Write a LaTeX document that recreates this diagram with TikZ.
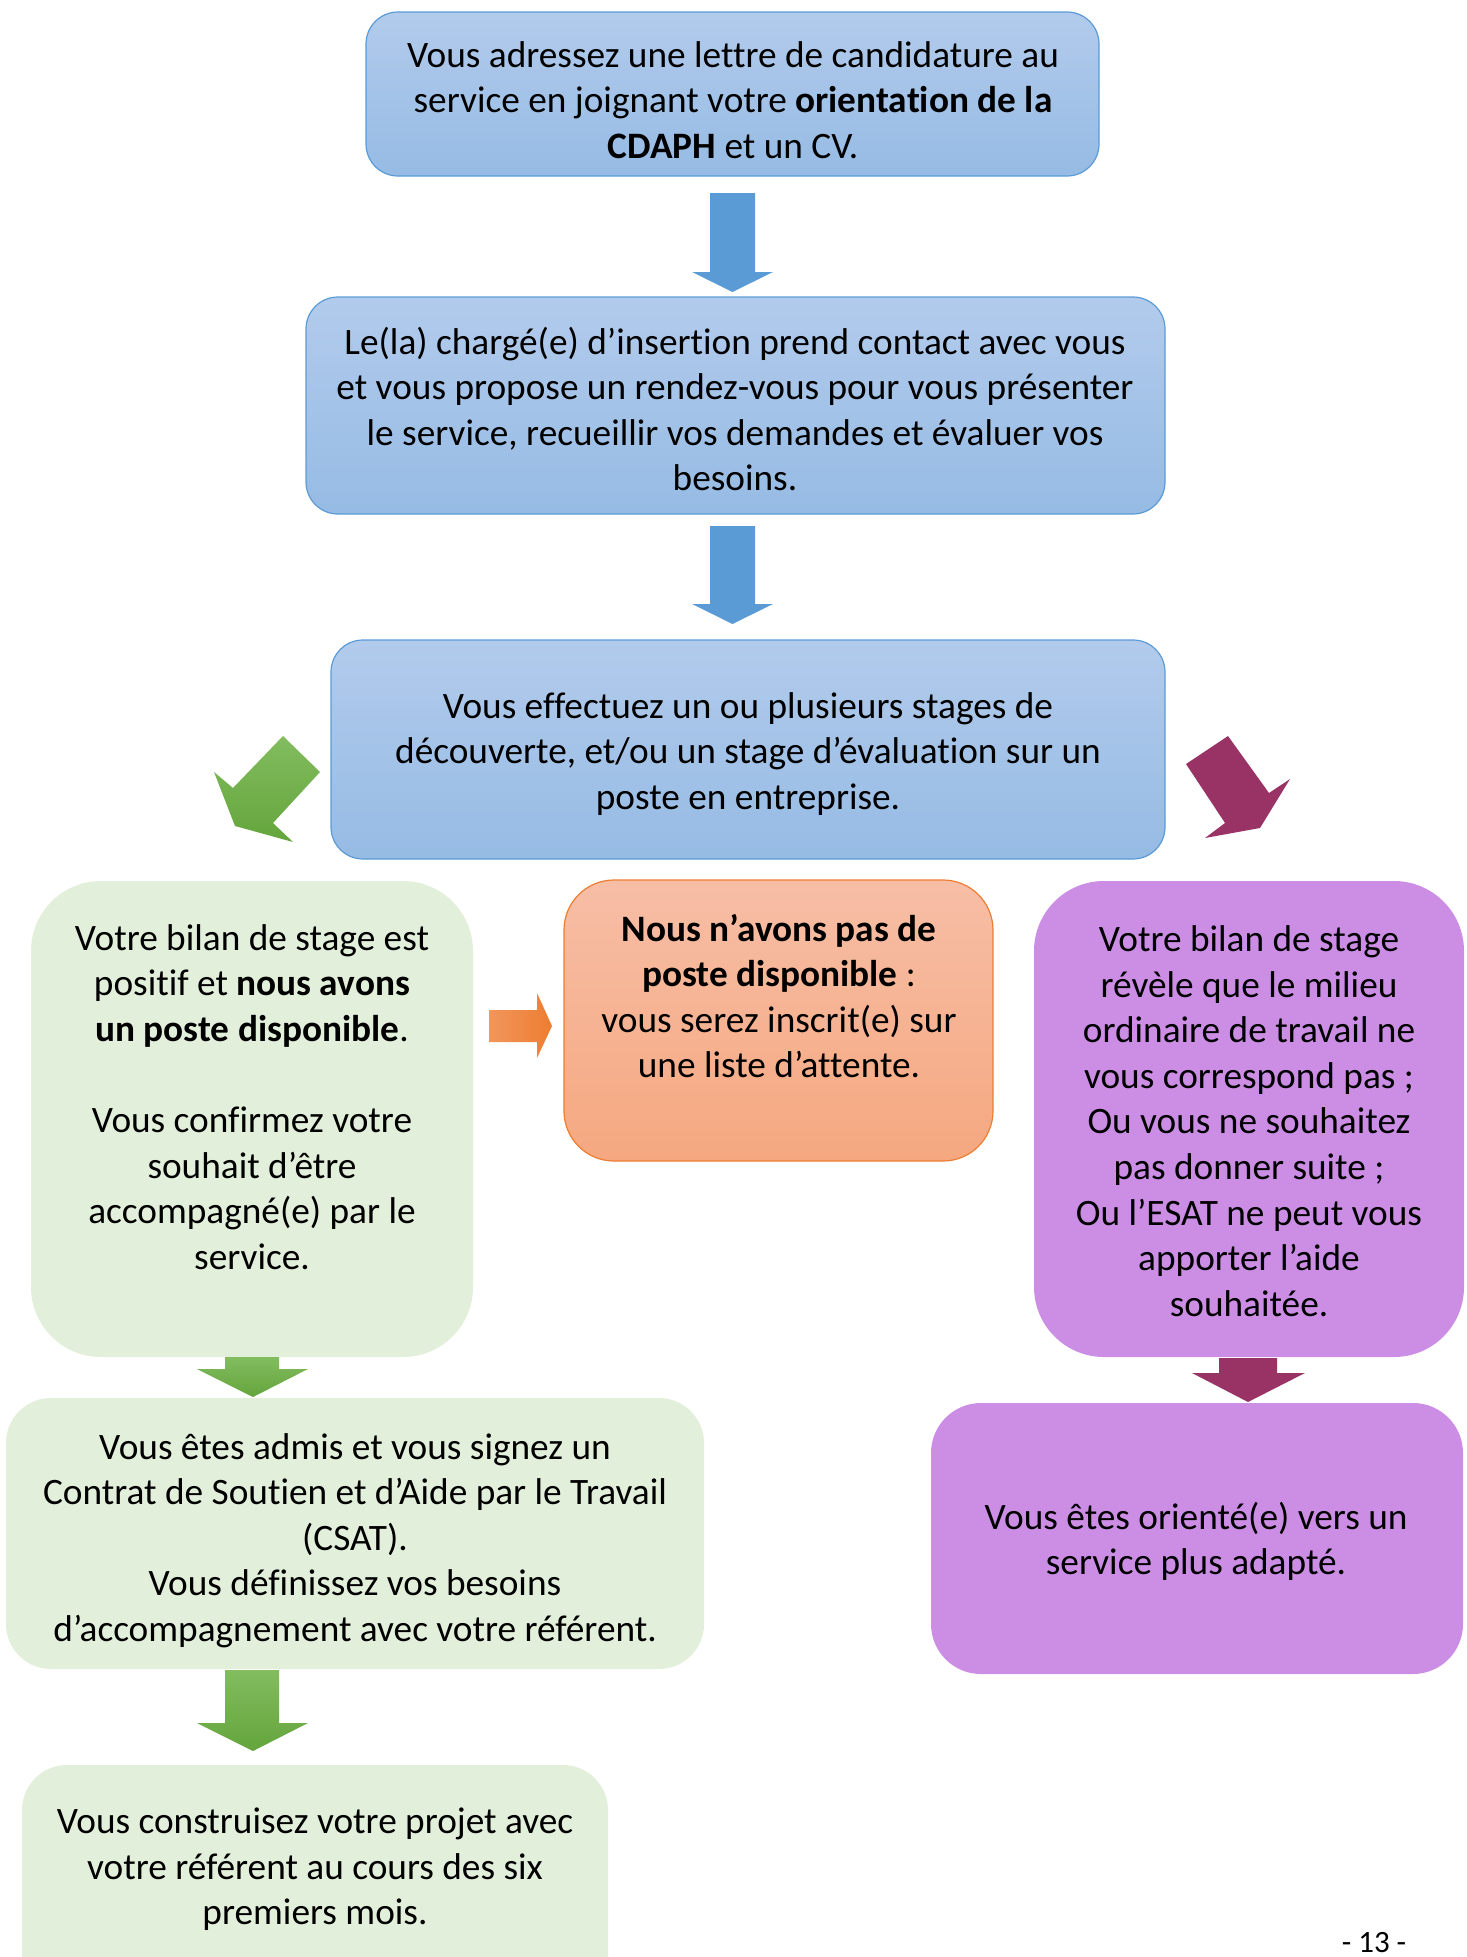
\documentclass[tikz,border=0pt]{standalone}
\usepackage{fontspec}
\setmainfont{Carlito}[Ligatures=NoCommon]
\definecolor{bluetop}{RGB}{178,203,236}
\definecolor{bluebot}{RGB}{150,187,228}
\definecolor{blueline}{RGB}{91,155,213}
\definecolor{bluearrow}{RGB}{91,155,213}
\definecolor{greenfill}{RGB}{226,239,218}
\definecolor{greentop}{RGB}{130,188,95}
\definecolor{greenbot}{RGB}{100,165,60}
\definecolor{orangetop}{RGB}{247,190,166}
\definecolor{orangebot}{RGB}{245,168,128}
\definecolor{orangeline}{RGB}{237,125,49}
\definecolor{orangeleft}{RGB}{241,150,92}
\definecolor{orangeright}{RGB}{237,125,49}
\definecolor{purplefill}{RGB}{204,142,229}
\definecolor{purplearrow}{RGB}{153,51,102}
\tikzset{
  box/.style={inner sep=0pt, line width=1.2pt},
  bluebox/.style={box, draw=blueline, top color=bluetop, bottom color=bluebot, rounded corners=32pt},
  greenbox/.style={box, fill=greenfill, draw=none},
  orangebox/.style={box, draw=orangeline, top color=orangetop, bottom color=orangebot, rounded corners=50pt},
  purplebox/.style={box, fill=purplefill, draw=none},
  txt/.style={align=center, inner sep=0pt, font=\fontsize{37.3}{45.6}\selectfont},
  bluearr/.style={fill=bluearrow, draw=none},
  greenarr/.style={top color=greentop, bottom color=greenbot, draw=none},
  purplearr/.style={fill=purplearrow, draw=none},
}
\begin{document}
\begin{tikzpicture}[x=1pt,y=-1pt]
\useasboundingbox (0,0) rectangle (1467,1957);
% boxes
\node[bluebox, minimum width=733pt, minimum height=164pt] (b1) at (732.5,94) {};
\node[bluebox, minimum width=859pt, minimum height=217pt] (b2) at (735.5,405.5) {};
\node[bluebox, minimum width=834pt, minimum height=219pt] (b3) at (748,749.5) {};
\node[greenbox, rounded corners=70pt, minimum width=442pt, minimum height=476pt] (g1) at (252,1119) {};
\node[orangebox, minimum width=429pt, minimum height=281pt] (o1) at (778.5,1020.5) {};
\node[purplebox, rounded corners=70pt, minimum width=430pt, minimum height=476pt] (p1) at (1249,1119) {};
\node[greenbox, rounded corners=45pt, minimum width=698pt, minimum height=271pt] (g2) at (355,1533.5) {};
\node[purplebox, rounded corners=50pt, minimum width=532pt, minimum height=271pt] (p2) at (1197,1538.5) {};
\begin{scope}
\clip (0,0) rectangle (1467,1957);
\node[greenbox, rounded corners=45pt, minimum width=586pt, minimum height=260pt] (g3) at (315,1895) {};
\end{scope}
% texts
\node[txt] (t1) at (733,100) {Vous adressez une lettre de candidature au\\service en joignant votre \textbf{orientation de la}\\\textbf{CDAPH} et un CV.};
\node[txt] (t2) at (735,409) {Le(la) chargé(e) d’insertion prend contact avec vous\\et vous propose un rendez-vous pour vous présenter\\le service, recueillir vos demandes et évaluer vos\\besoins.};
\node[txt] (t3) at (748,754) {Vous effectuez un ou plusieurs stages de\\découverte, et/ou un stage d’évaluation sur un\\poste en entreprise.};
\node[txt] (t4) at (252,1097) {Votre bilan de stage est\\positif et \textbf{nous avons}\\\textbf{un poste disponible}.\\[45.6pt]Vous confirmez votre\\souhait d’être\\accompagné(e) par le\\service.};
\node[txt] (t5) at (779,996) {\textbf{Nous n’avons pas de}\\\textbf{poste disponible} :\\vous serez inscrit(e) sur\\une liste d’attente.};
\node[txt] (t6) at (1249,1121) {Votre bilan de stage\\révèle que le milieu\\ordinaire de travail ne\\vous correspond pas ;\\Ou vous ne souhaitez\\pas donner suite ;\\Ou l’ESAT ne peut vous\\apporter l’aide\\souhaitée.};
\node[txt] (t7) at (355,1540.5) {Vous êtes admis et vous signez un\\Contrat de Soutien et d’Aide par le Travail\\(CSAT).\\Vous définissez vos besoins\\d’accompagnement avec votre référent.};
\node[txt] (t8) at (1196,1541.5) {Vous êtes orienté(e) vers un\\service plus adapté.};
\node[txt] (t9) at (315,1869.5) {Vous construisez votre projet avec\\votre référent au cours des six\\premiers mois.};
\node[inner sep=0pt, font=\fontsize{31}{36}\selectfont] (pg) at (1374,1943) {- 13 -};
% arrows
\path[bluearr] (710,193) -- (755,193) -- (755,272) -- (773,272) -- (732.5,292) -- (692,272) -- (710,272) -- cycle;
\path[bluearr] (710,526) -- (755,526) -- (755,604) -- (773,604) -- (732.5,624) -- (692,604) -- (710,604) -- cycle;
\path[top color=greentop, bottom color=greenbot] (283,736) -- (320,772) -- (273,823) -- (293,842) -- (235,826) -- (214,772) -- (233,788) -- cycle;
\path[purplearr] (1186,764) -- (1228,736) -- (1269,793) -- (1290,779) -- (1260,828) -- (1205,838) -- (1225,823) -- cycle;
\path[left color=orangeleft, right color=orangeright] (489,1010) -- (537,1010) -- (537,993) -- (552,1026) -- (537,1058) -- (537,1042) -- (489,1042) -- cycle;
\path[greenarr] (225,1357) -- (279,1357) -- (279,1369) -- (308,1369) -- (253,1397) -- (197,1369) -- (225,1369) -- cycle;
\path[purplearr] (1219,1358) -- (1277,1358) -- (1277,1373) -- (1305,1373) -- (1248,1402) -- (1192,1373) -- (1219,1373) -- cycle;
\path[greenarr] (225,1670) -- (279,1670) -- (279,1723) -- (308,1723) -- (253,1751) -- (197,1723) -- (225,1723) -- cycle;
\end{tikzpicture}
\end{document}
